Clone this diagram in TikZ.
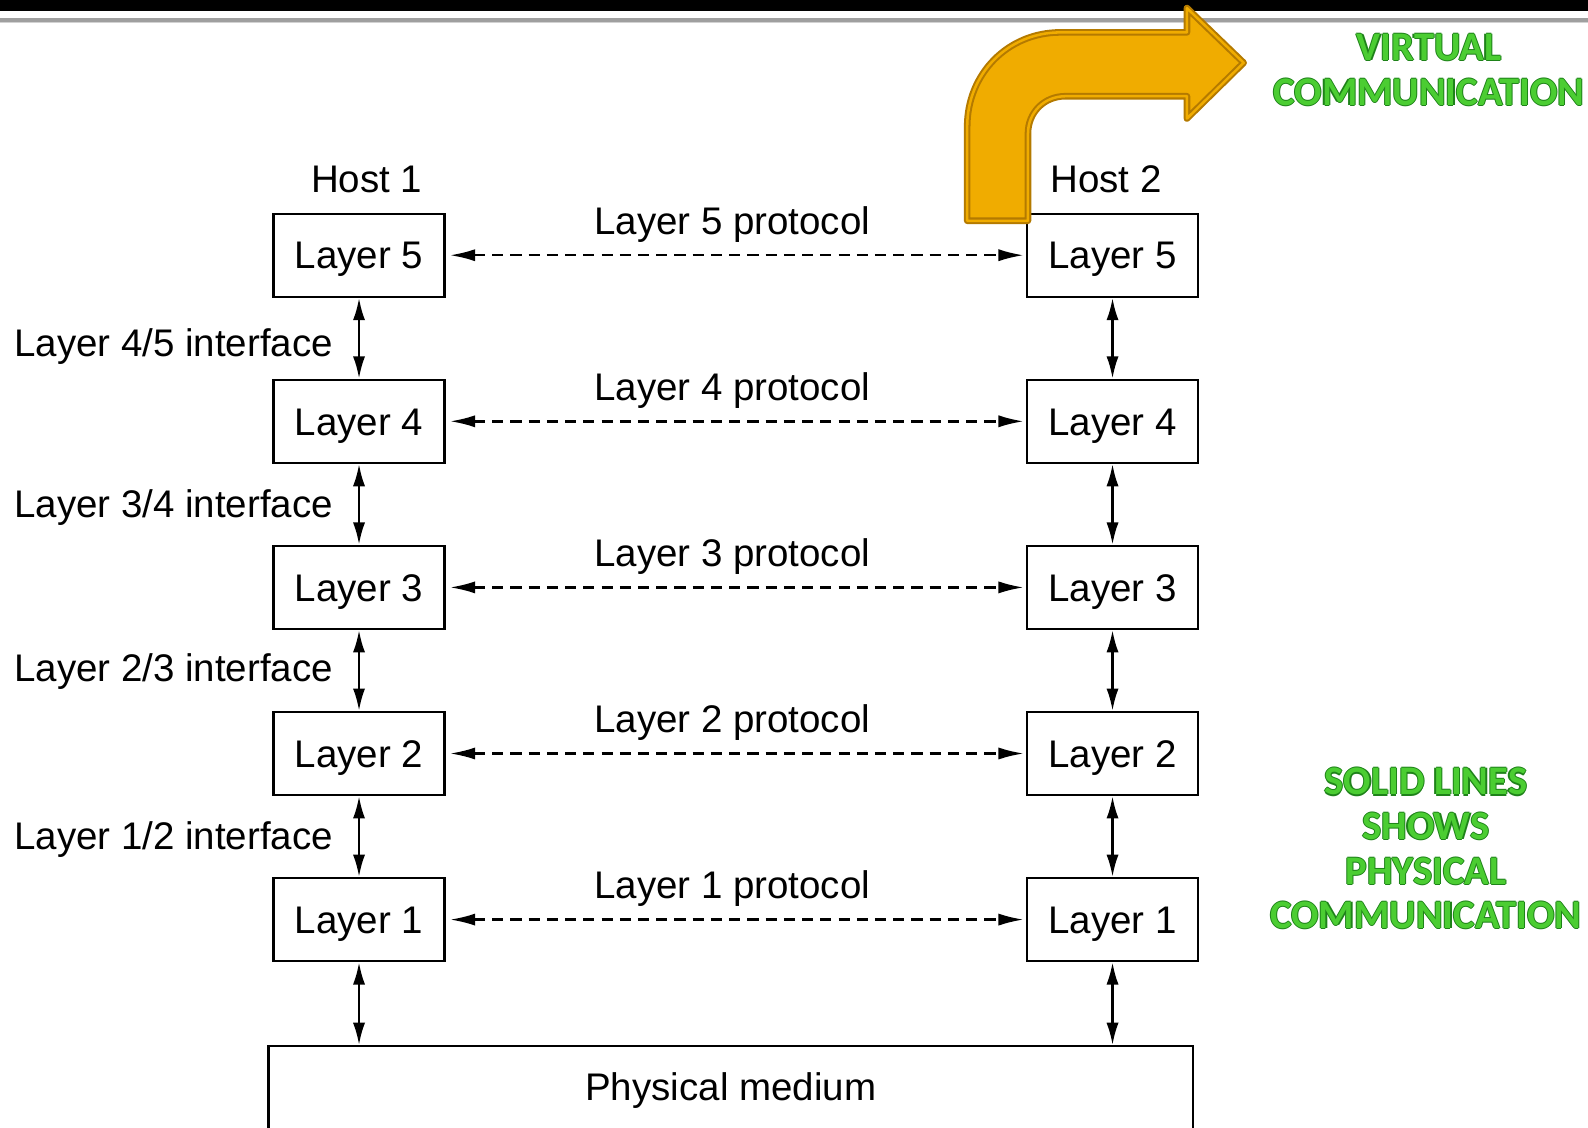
\documentclass[tikz,border=0pt]{standalone}
\usepackage{fontspec}
\setmainfont{Liberation Sans}
\newfontfamily\greenfont{Carlito}
\usetikzlibrary{arrows.meta}
\definecolor{gdark}{RGB}{30,130,25}
\definecolor{glight}{RGB}{75,205,50}
\definecolor{orfill}{RGB}{240,172,0}
\definecolor{ordraw}{RGB}{180,122,0}
\newcommand\gw[1]{%
 \rlap{\hspace*{1.1pt}\textcolor{gdark}{#1}}%
 \rlap{\hspace*{-1.1pt}\textcolor{gdark}{#1}}%
 \rlap{\raisebox{1.1pt}{\textcolor{gdark}{#1}}}%
 \rlap{\raisebox{-1.1pt}{\textcolor{gdark}{#1}}}%
 \textcolor{glight}{#1}}
\begin{document}
\begin{tikzpicture}[x=1pt,y=-1pt,
  txt/.style={font=\fontsize{38}{44}\selectfont, inner sep=0pt, text height=27.2pt, text depth=0pt},
  layerbox/.style={draw, line width=2.3pt, minimum width=169pt, minimum height=82pt, inner sep=0pt, text height=27.2pt, text depth=0pt, font=\fontsize{38}{44}\selectfont},
  updown/.style={line width=2.4pt, {Latex[length=22pt,width=12pt]}-{Latex[length=22pt,width=12pt]}},
  proto/.style={line width=2.4pt, dash pattern=on 11pt off 7pt, {Latex[length=25pt,width=12pt]}-{Latex[length=25pt,width=12pt]}, shorten <=4pt, shorten >=2pt},
  green/.style={font=\greenfont\bfseries\fontsize{40}{44}\selectfont, align=center, inner sep=0pt}
]
\useasboundingbox (0,0) rectangle (1568,1113);
\fill[white] (0,0) rectangle (1568,1113);
% top bar
\fill[black] (0,0) rectangle (1568,11);
\fill[gray!75] (0,18) rectangle (1568,21.5);
\fill[gray!35] (0,21.5) rectangle (1568,23);

% hosts
\node[txt] (h1) at (362,176) {Host 1};
\node[txt] (h2) at (1092,176) {Host 2};

% layer boxes
\foreach \i/\y in {5/252,4/416,3/580,2/744,1/908}{
  \node[layerbox] (L\i) at (354.5,\y) {Layer \i};
  \node[layerbox] (R\i) at (1098.5,\y) {Layer \i};
  \node[txt] (P\i) at (723,\y-34) {Layer \i\ protocol};
  \draw[proto] (L\i.east) -- (R\i.west);
}

% physical medium
\node[draw, line width=2.3pt, minimum width=913pt, minimum height=100pt, inner sep=0pt, text height=27.2pt, text depth=20pt, font=\fontsize{38}{44}\selectfont] (phys) at (721.5,1083) {Physical medium};

% vertical arrows
\foreach \a/\b in {5/4,4/3,3/2,2/1}{
  \draw[updown] (L\a.south) -- (L\b.north);
  \draw[updown] (R\a.south) -- (R\b.north);
}
\draw[updown] (L1.south) -- (L1.south |- phys.north);
\draw[updown] (R1.south) -- (R1.south |- phys.north);

% interface labels
\node[txt, anchor=east] (i45) at (329,338) {Layer 4/5 interface};
\node[txt, anchor=east] (i34) at (329,497) {Layer 3/4 interface};
\node[txt, anchor=east] (i23) at (329,659) {Layer 2/3 interface};
\node[txt, anchor=east] (i12) at (329,825) {Layer 1/2 interface};

% bent orange arrow
\path[fill=orfill] (955,218) -- (955,125) .. controls (955,73) and (995,32) .. (1047,32)
  -- (1172,32) -- (1172,8) -- (1228,62) -- (1172,117) -- (1172,95) -- (1052,95)
  .. controls (1031,95) and (1015,111) .. (1015,132) -- (1015,218) -- cycle;
\draw[draw=ordraw, line width=2pt, double=orfill, double distance=2.5pt, line join=round] (955,218) -- (955,125) .. controls (955,73) and (995,32) .. (1047,32)
  -- (1172,32) -- (1172,8) -- (1228,62) -- (1172,117) -- (1172,95) -- (1052,95)
  .. controls (1031,95) and (1015,111) .. (1015,132) -- (1015,218) -- cycle;

% green texts
\node[green] (virt) at (1411,69) {\gw{VIRTUAL}\\ \gw{COMMUNICATION}};
\node[green] (solid) at (1408,838) {\gw{SOLID LINES}\\ \gw{SHOWS}\\ \gw{PHYSICAL}\\ \gw{COMMUNICATION}};
\end{tikzpicture}
\end{document}
